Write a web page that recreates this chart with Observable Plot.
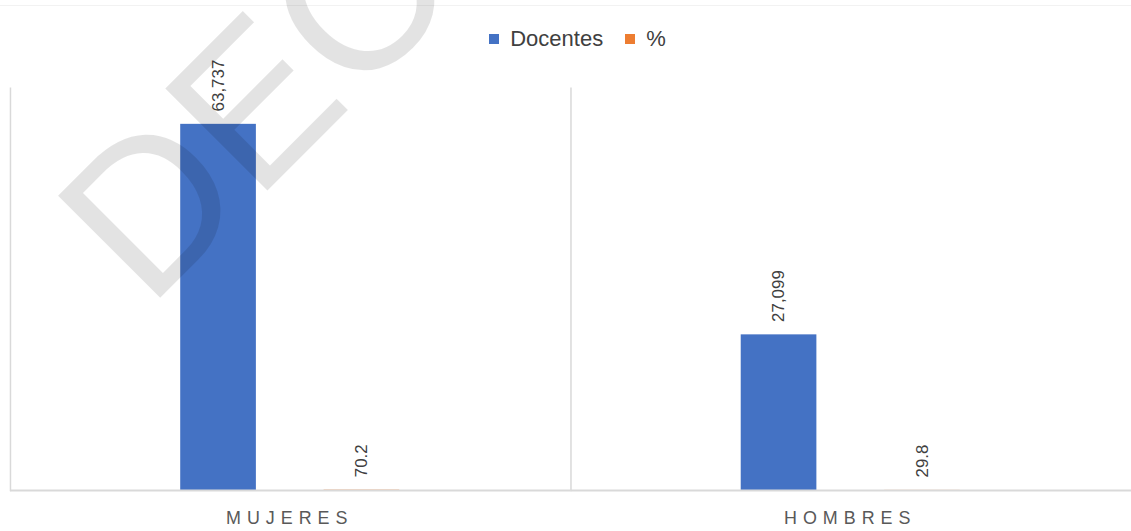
<!DOCTYPE html>
<html>
<head>
<meta charset="utf-8">
<script src="https://cdn.jsdelivr.net/npm/d3@7"></script>
<script src="https://cdn.jsdelivr.net/npm/@observablehq/plot@0.6"></script>
<style>
  html, body { margin: 0; padding: 0; background: #fff; overflow: hidden; width: 1131px; height: 531px; }
  body { position: relative; font-family: "Liberation Sans", Arial, sans-serif; }
  #topline { position: absolute; left: 0; top: 5px; width: 1131px; height: 1px; background: #f2f2f2; }
  #legend { box-sizing: border-box; height: 55px; padding-top: 22px; }
  #chart svg { display: block; overflow: visible; }
  [aria-label="fx-axis tick label"] text { letter-spacing: 6px; }
  #watermark { position: absolute; left: 0; top: 0; pointer-events: none; }
</style>
</head>
<body>
<div id="topline"></div>
<div id="legend"></div>
<div id="chart"></div>
<script>
// ---- data ----
const categories = ["MUJERES", "HOMBRES"];
const series = ["Docentes", "%"];
const docentes = [63737, 27099];
const porcentaje = [70.2, 29.8];
const docentesLabels = ["63,737", "27,099"];
const porcentajeLabels = ["70.2", "29.8"];
const colors = ["#4472c4", "#ed7d31"];

const rows = [];
categories.forEach((c, i) => {
  rows.push({cat: c, serie: series[0], value: docentes[i], label: docentesLabels[i]});
  rows.push({cat: c, serie: series[1], value: porcentaje[i], label: porcentajeLabels[i]});
});

// ---- legend ----
const leg = Plot.legend({
  color: {type: "ordinal", domain: series, range: colors},
  swatchSize: 10,
  style: {fontSize: "22px", fontFamily: "'Liberation Sans', Arial, sans-serif", color: "#404040"}
});
leg.style.justifyContent = "center";
leg.style.marginLeft = "46px";
document.getElementById("legend").appendChild(leg);

// ---- chart ----
const chart = Plot.plot({
  width: 1136,
  height: 476,
  marginTop: 33,
  marginBottom: 39,
  marginLeft: 10,
  marginRight: 0,
  style: {fontFamily: "'Liberation Sans', Arial, sans-serif", background: "transparent"},
  fx: {domain: categories, padding: 0, label: null},
  x: {domain: series, paddingInner: 0.469, paddingOuter: 1.176, axis: null},
  y: {domain: [0, 70000], axis: null},
  color: {domain: series, range: colors},
  marks: [
    Plot.frame({anchor: "left", stroke: "#d9d9d9", strokeWidth: 1.5}),
    Plot.barY(rows, {fx: "cat", x: "serie", y: "value", fill: "serie"}),
    Plot.ruleY([0], {stroke: "#d9d9d9", strokeWidth: 2}),
    Plot.text(rows, {
      fx: "cat", x: "serie", y: "value", text: "label",
      rotate: -90, textAnchor: "start", lineAnchor: "middle",
      dy: -13, fontSize: 17, fill: "#404040"
    }),
    Plot.axisFx({anchor: "bottom", tickSize: 0, tickPadding: 21, fontSize: 18, fill: "#595959", dx: -1, label: null})
  ]
});
document.getElementById("chart").appendChild(chart);

// ---- watermark ----
const ns = "http://www.w3.org/2000/svg";
const wm = document.createElementNS(ns, "svg");
wm.setAttribute("id", "watermark");
wm.setAttribute("width", "1131");
wm.setAttribute("height", "531");
const t = document.createElementNS(ns, "text");
t.setAttribute("x", "148");
t.setAttribute("y", "310");
t.setAttribute("transform", "rotate(-45 148 310)");
t.setAttribute("font-size", "210");
t.setAttribute("font-family", "'Liberation Sans', Arial, sans-serif");
t.setAttribute("fill", "rgba(0,0,0,0.11)");
t.textContent = "DEC";
wm.appendChild(t);
document.body.appendChild(wm);
</script>
</body>
</html>
